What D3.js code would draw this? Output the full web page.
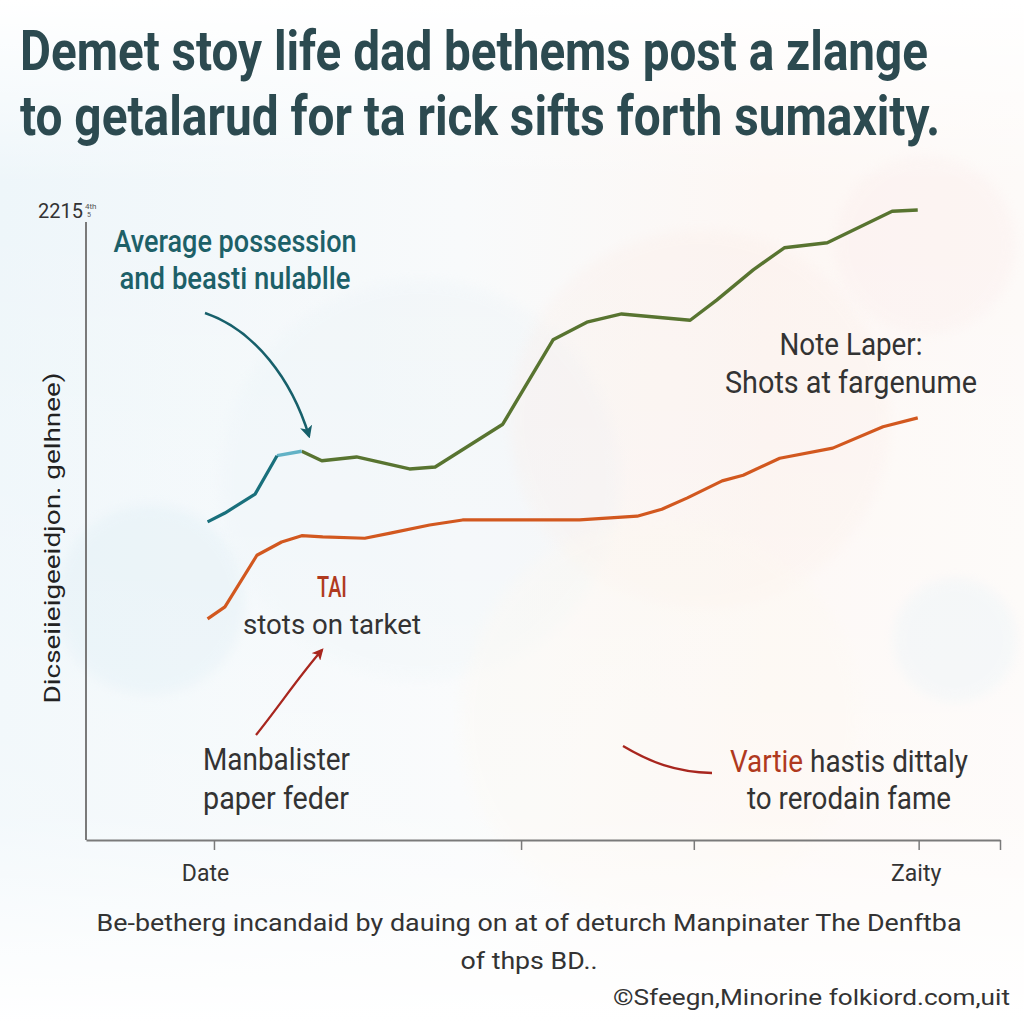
<!DOCTYPE html>
<html>
<head>
<meta charset="utf-8">
<script src="https://cdn.jsdelivr.net/npm/d3@7"></script>
<style>
  html, body { margin: 0; padding: 0; background: #ffffff; }
  svg { display: block; }
</style>
</head>
<body>
<svg id="chart" width="1024" height="1024"></svg>
<script>
// ---------- data ----------
const titleLines = [
  "Demet stoy life dad bethems post a zlange",
  "to getalarud  for ta rick sifts forth sumaxity."
];
const yTickLabel = "2215";
const yAxisLabel = "Dicseiieigeeidjon. gelhnee)";
const xTickValues = [14.0, 47.6, 66.5, 91.1, 100];
const xTickLabels = ["Date", "", "", "Zaity", ""];

// possession series (first part teal, short light-teal bridge, then green)
const possessionX = [13.3, 15.2, 18.5, 20.9, 23.6, 25.8, 29.6, 35.4, 38.2, 45.6, 51.1, 54.8, 58.6, 66.1, 69.0, 73.0, 76.4, 81.1, 88.2, 91.0];
const possessionY = [50.5, 51.9, 54.9, 61.0, 61.7, 60.2, 60.8, 58.9, 59.2, 66.0, 79.4, 82.2, 83.5, 82.5, 85.7, 90.5, 94.0, 94.8, 99.8, 100.0];
const tealEnd = 3;     // index where teal part ends
const bridgeEnd = 4;   // index where light-teal bridge ends

// shots series
const shotsX = [13.3, 15.2, 18.7, 21.4, 23.6, 25.9, 30.5, 33.3, 37.6, 41.2, 48.9, 54.0, 60.3, 63.0, 65.8, 69.6, 71.9, 75.9, 81.7, 87.2, 91.0];
const shotsY = [35.1, 37.0, 45.2, 47.3, 48.3, 48.1, 47.9, 48.7, 50.0, 50.8, 50.8, 50.8, 51.4, 52.5, 54.3, 57.0, 57.9, 60.6, 62.2, 65.6, 67.0];

const footerLines = [
  "Be-betherg incandaid by dauing on at of deturch Manpinater The Denftba",
  "of thps BD.."
];
const copyright = "\u00A9Sfeegn,Minorine folkiord.com,uit";

// ---------- drawing ----------
const svg = d3.select("#chart");
const W = 1024, H = 1024;
const FONT = "'Roboto', 'Liberation Sans', sans-serif";

const defs = svg.append("defs");
const bgGrad = defs.append("linearGradient").attr("id", "bgGrad")
  .attr("x1", "0").attr("y1", "0").attr("x2", "1").attr("y2", "0");
bgGrad.append("stop").attr("offset", "0").attr("stop-color", "#eef6fa");
bgGrad.append("stop").attr("offset", "0.45").attr("stop-color", "#f8fafb");
bgGrad.append("stop").attr("offset", "0.75").attr("stop-color", "#fdf7f4");
bgGrad.append("stop").attr("offset", "1").attr("stop-color", "#fdfaf8");
const vGrad = defs.append("linearGradient").attr("id", "vGrad")
  .attr("x1", "0").attr("y1", "0").attr("x2", "0").attr("y2", "1");
vGrad.append("stop").attr("offset", "0").attr("stop-color", "#ffffff").attr("stop-opacity", 1);
vGrad.append("stop").attr("offset", "0.18").attr("stop-color", "#ffffff").attr("stop-opacity", 0);
vGrad.append("stop").attr("offset", "0.8").attr("stop-color", "#ffffff").attr("stop-opacity", 0.3);
vGrad.append("stop").attr("offset", "1").attr("stop-color", "#ffffff").attr("stop-opacity", 1);

const blur = defs.append("filter").attr("id", "blur").attr("x", "-50%").attr("y", "-50%").attr("width", "200%").attr("height", "200%");
blur.append("feGaussianBlur").attr("stdDeviation", 6);

svg.append("rect").attr("width", W).attr("height", H).attr("fill", "url(#bgGrad)");

// soft bokeh circles
const bokeh = [
  {cx: 150, cy: 600, r: 95, c: "#dcecf4", o: 0.45},
  {cx: 420, cy: 480, r: 200, c: "#e8f2f7", o: 0.3},
  {cx: 700, cy: 420, r: 190, c: "#fbece6", o: 0.3},
  {cx: 925, cy: 245, r: 90, c: "#fbeceb", o: 0.35},
  {cx: 955, cy: 640, r: 62, c: "#e4f0f6", o: 0.4},
  {cx: 660, cy: 720, r: 200, c: "#fdf7ee", o: 0.35}
];
svg.append("g").selectAll("circle").data(bokeh).join("circle")
  .attr("cx", d => d.cx).attr("cy", d => d.cy).attr("r", d => d.r)
  .attr("fill", d => d.c).attr("opacity", d => d.o).attr("filter", "url(#blur)");
svg.append("rect").attr("width", W).attr("height", H).attr("fill", "url(#vGrad)");

// scales
const x = d3.scaleLinear().domain([0, 100]).range([86, 1000]);
const y = d3.scaleLinear().domain([0, 100]).range([840, 210]);

// title (vertically stretched to mimic a condensed face)
const titleY = [70, 135], titleLen = [908, 920];
svg.append("g").selectAll("text").data(titleLines).join("text")
  .attr("transform", (d, i) => `translate(20,${titleY[i]}) scale(1,1.12)`)
  .attr("textLength", (d, i) => titleLen[i]).attr("lengthAdjust", "spacingAndGlyphs")
  .attr("font-family", FONT).attr("font-weight", "bold").attr("font-size", 50)
  .attr("fill", "#2c4a50").text(d => d);

// axes
const axisColor = "#7a7a7a";
const yAxis = svg.append("g").attr("transform", `translate(${x(0)},0)`)
  .call(d3.axisLeft(y).tickValues([]).tickSizeOuter(0));
yAxis.select(".domain").attr("stroke", axisColor).attr("stroke-width", 2)
  .attr("d", `M0,${222}V${y(0)}`);

const xAxis = svg.append("g").attr("transform", `translate(0,${y(0)})`)
  .call(d3.axisBottom(x).tickValues(xTickValues).tickSize(10).tickSizeOuter(0)
    .tickFormat((d, i) => xTickLabels[i]));
xAxis.select(".domain").attr("stroke", axisColor).attr("stroke-width", 2);
xAxis.selectAll(".tick line").attr("stroke", axisColor).attr("stroke-width", 1.5);
xAxis.selectAll(".tick text").attr("font-family", FONT).attr("font-size", 23)
  .attr("fill", "#333").attr("dy", "1.2em")
  .attr("dx", (d, i) => i === 0 ? -9 : (i === 3 ? -3 : 0));

// y tick label at top
svg.append("text").attr("x", 38).attr("y", 218)
  .attr("font-family", FONT).attr("font-size", 20).attr("fill", "#333").text(yTickLabel);
svg.append("text").attr("x", 85).attr("y", 209)
  .attr("font-family", FONT).attr("font-size", 8).attr("fill", "#555").text("4th");
svg.append("text").attr("x", 87).attr("y", 217)
  .attr("font-family", FONT).attr("font-size", 7).attr("fill", "#555").text("5");

// y axis label
svg.append("text").attr("transform", "translate(60,538) rotate(-90)")
  .attr("text-anchor", "middle").attr("font-family", FONT).attr("font-size", 22)
  .attr("textLength", 331).attr("lengthAdjust", "spacingAndGlyphs")
  .attr("fill", "#222").text(yAxisLabel);

// lines
const line = d3.line().x(d => x(d[0])).y(d => y(d[1]));
const poss = possessionX.map((v, i) => [v, possessionY[i]]);
const shots = shotsX.map((v, i) => [v, shotsY[i]]);

svg.append("path").datum(shots).attr("d", line)
  .attr("fill", "none").attr("stroke", "#d2581f").attr("stroke-width", 3.2)
  .attr("stroke-linejoin", "round");
svg.append("path").datum(poss.slice(bridgeEnd)).attr("d", line)
  .attr("fill", "none").attr("stroke", "#587430").attr("stroke-width", 3.4)
  .attr("stroke-linejoin", "round");
svg.append("path").datum(poss.slice(tealEnd, bridgeEnd + 1)).attr("d", line)
  .attr("fill", "none").attr("stroke", "#62b2c6").attr("stroke-width", 3.4);
svg.append("path").datum(poss.slice(0, tealEnd + 1)).attr("d", line)
  .attr("fill", "none").attr("stroke", "#19707c").attr("stroke-width", 3.2)
  .attr("stroke-linejoin", "round");

// arrowheads
function arrowMarker(id, color) {
  defs.append("marker").attr("id", id).attr("viewBox", "0 0 10 10")
    .attr("refX", 8).attr("refY", 5).attr("markerWidth", 5).attr("markerHeight", 5)
    .attr("markerUnits", "strokeWidth").attr("orient", "auto")
    .append("path").attr("d", "M0,0 L10,5 L0,10 L2.5,5 Z").attr("fill", color);
}
arrowMarker("arrTeal", "#17606b");
arrowMarker("arrRed", "#a8261e");

// annotations
function textBlock(lines, opts) {
  const g = svg.append("g");
  lines.forEach((ln, i) => {
    const t = g.append("text")
      .attr("transform", `translate(${opts.x},${opts.y + i * opts.lh}) scale(1,${opts.sy || 1})`)
      .attr("text-anchor", opts.anchor || "start")
      .attr("font-family", opts.font || FONT).attr("font-size", opts.size)
      .attr("font-weight", opts.weight || "normal")
      .attr("fill", opts.color);
    if (opts.len && opts.len[i]) t.attr("textLength", opts.len[i]).attr("lengthAdjust", "spacingAndGlyphs");
    if (Array.isArray(ln)) {
      ln.forEach(seg => t.append("tspan").attr("fill", seg.c).text(seg.t));
    } else t.text(ln);
  });
}

textBlock(["Average possession", "and beasti nulablle"],
  {x: 235, y: 252, lh: 37, anchor: "middle", size: 28, sy: 1.15, weight: 500, color: "#1d6068", len: [243, 231]});
svg.append("path").attr("d", "M205,313 C255,330 292,380 309,436")
  .attr("fill", "none").attr("stroke", "#17606b").attr("stroke-width", 2.5)
  .attr("marker-end", "url(#arrTeal)");

textBlock(["TAI"], {x: 332, y: 597, lh: 0, anchor: "middle", size: 26, sy: 1.15, weight: 500, color: "#b03a1e", len: [30]});
textBlock(["stots on tarket"], {x: 332, y: 634, lh: 0, anchor: "middle", size: 28, color: "#333", len: [178]});
svg.append("path").attr("d", "M256,735 C280,705 300,675 322,650")
  .attr("fill", "none").attr("stroke", "#a8261e").attr("stroke-width", 2.3)
  .attr("marker-end", "url(#arrRed)");

textBlock(["Manbalister", "paper feder"],
  {x: 203, y: 770, lh: 39, size: 28, sy: 1.15, color: "#333", len: [147, 146]});

svg.append("path").attr("d", "M623,746 C650,762 675,772 712,773")
  .attr("fill", "none").attr("stroke", "#a8261e").attr("stroke-width", 2.3);
textBlock([[{t: "Vartie ", c: "#b03a1e"}, {t: "hastis dittaly", c: "#333"}], "to rerodain fame"],
  {x: 849, y: 772, lh: 37, anchor: "middle", size: 28, sy: 1.15, color: "#333", len: [238, 204]});

textBlock(["Note Laper:", "Shots at fargenume"],
  {x: 851, y: 355, lh: 38, anchor: "middle", size: 28, sy: 1.15, color: "#333", len: [143, 252]});

// footer
textBlock(footerLines, {x: 529, y: 931, lh: 38, anchor: "middle", size: 24, color: "#333", len: [865, 137]});
textBlock([copyright], {x: 1010, y: 1005, lh: 0, anchor: "end", size: 22, color: "#333", len: [397]});
</script>
</body>
</html>
